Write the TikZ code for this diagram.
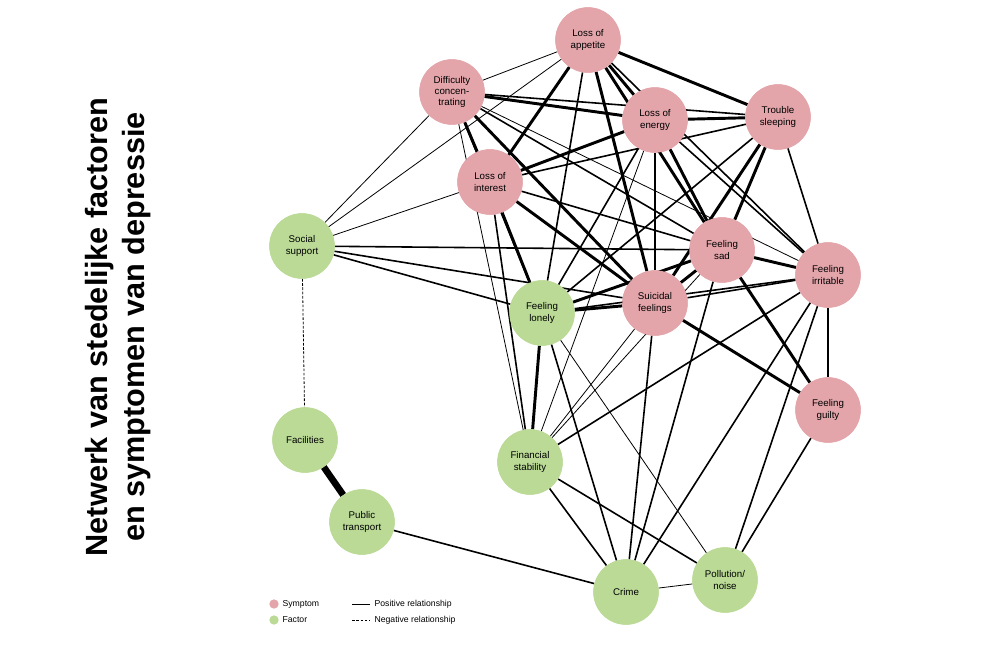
\documentclass[tikz,border=0pt]{standalone}
\usepackage{fontspec}
\setmainfont{Liberation Sans}
\begin{document}
\begin{tikzpicture}[x=0.75pt,y=-0.75pt,
  sym/.style={circle,fill=symc,draw=none,minimum size=49pt,inner sep=0pt,align=center,font=\fontsize{7.3}{8.3}\selectfont},
  fac/.style={circle,fill=facc,draw=none,minimum size=49pt,inner sep=0pt,align=center,font=\fontsize{7.3}{8.3}\selectfont},
  e/.style={line width=0.6pt},
  m/.style={line width=1.2pt},
  t/.style={line width=2.2pt},
  leg/.style={font=\fontsize{6.5}{7.5}\selectfont,anchor=west,inner sep=1pt}]
\definecolor{symc}{RGB}{227,165,170}
\definecolor{facc}{RGB}{186,218,150}
\useasboundingbox (0,0) rectangle (1000,667);
\node[font=\bfseries\fontsize{23}{28}\selectfont,rotate=90,align=center] (title) at (118,327) {Netwerk van stedelijke factoren\\en symptomen van depressie};
\node[sym] (app) at (588,40) {Loss of\\appetite};
\node[sym] (dif) at (452,92) {Difficulty\\concen-\\trating};
\node[sym] (ene) at (655,120) {Loss of\\energy};
\node[sym] (sle) at (778,117) {Trouble\\sleeping};
\node[sym] (int) at (490,182) {Loss of\\interest};
\node[fac] (soc) at (302,246) {Social\\support};
\node[sym] (sad) at (722,250) {Feeling\\sad};
\node[sym] (irr) at (828,275) {Feeling\\irritable};
\node[fac] (lon) at (542,313) {Feeling\\lonely};
\node[sym] (sui) at (655,303) {Suicidal\\feelings};
\node[sym] (gui) at (828,410) {Feeling\\guilty};
\node[fac] (fcl) at (305,440) {Facilities};
\node[fac] (fin) at (530,462) {Financial\\stability};
\node[fac] (pub) at (362,522) {Public\\transport};
\node[fac] (cri) at (626,592) {Crime};
\node[fac] (pol) at (725,580) {Pollution/\\noise};
% edges
\foreach \a/\b/\s in {app/dif/e,app/ene/t,app/sle/t,app/int/t,app/sad/t,app/sui/t,app/irr/m,app/lon/m,app/soc/e,
 dif/ene/t,dif/sle/m,dif/int/t,dif/sad/m,dif/sui/t,dif/irr/e,dif/lon/m,dif/fin/e,
 ene/sle/t,ene/int/t,ene/sad/t,ene/sui/m,ene/irr/m,ene/lon/m,ene/fin/e,
 sle/int/m,sle/sad/t,sle/sui/t,sle/irr/m,sle/lon/m,
 int/sad/m,int/sui/t,int/lon/t,int/fin/m,int/soc/e,
 soc/sad/m,soc/lon/m,soc/sui/m,soc/dif/e,
 sad/irr/t,sad/sui/t,sad/lon/t,sad/gui/t,sad/fin/e,sad/cri/m,
 irr/gui/t,irr/sui/m,irr/lon/m,irr/cri/m,irr/pol/m,irr/fin/m,
 sui/lon/t,sui/gui/t,sui/cri/m,
 lon/fin/t,lon/cri/m,lon/pol/e,
 fin/cri/m,fin/pol/m,fin/sui/e,
 pub/cri/m,cri/pol/e,gui/pol/m}
 {\draw[\s] (\a) -- (\b);}
\draw[e,dash pattern=on 2pt off 1.2pt] (soc) -- (fcl);
\draw[line width=5pt] (fcl) -- (pub);
% redraw nodes on top
\node[sym] at (app) {Loss of\\appetite};
\node[sym] at (dif) {Difficulty\\concen-\\trating};
\node[sym] at (ene) {Loss of\\energy};
\node[sym] at (sle) {Trouble\\sleeping};
\node[sym] at (int) {Loss of\\interest};
\node[fac] at (soc) {Social\\support};
\node[sym] at (sad) {Feeling\\sad};
\node[sym] at (irr) {Feeling\\irritable};
\node[fac] at (lon) {Feeling\\lonely};
\node[sym] at (sui) {Suicidal\\feelings};
\node[sym] at (gui) {Feeling\\guilty};
\node[fac] at (fcl) {Facilities};
\node[fac] at (fin) {Financial\\stability};
\node[fac] at (pub) {Public\\transport};
\node[fac] at (cri) {Crime};
\node[fac] at (pol) {Pollution/\\noise};
% legend
\node[circle,fill=symc,minimum size=7pt,inner sep=0pt] (ls) at (274,604) {};
\node[circle,fill=facc,minimum size=7pt,inner sep=0pt] (lf) at (274,620) {};
\node[leg] (lst) at (281,604) {Symptom};
\node[leg] (lft) at (281,620) {Factor};
\coordinate (p1) at (352,604); \coordinate (p2) at (370,604);
\coordinate (n1) at (352,620); \coordinate (n2) at (370,620);
\draw[line width=0.5pt] (p1) -- (p2);
\draw[line width=0.5pt,dash pattern=on 2pt off 1.2pt] (n1) -- (n2);
\node[leg] (lpt) at (373,604) {Positive relationship};
\node[leg] (lnt) at (373,620) {Negative relationship};
\end{tikzpicture}
\end{document}
